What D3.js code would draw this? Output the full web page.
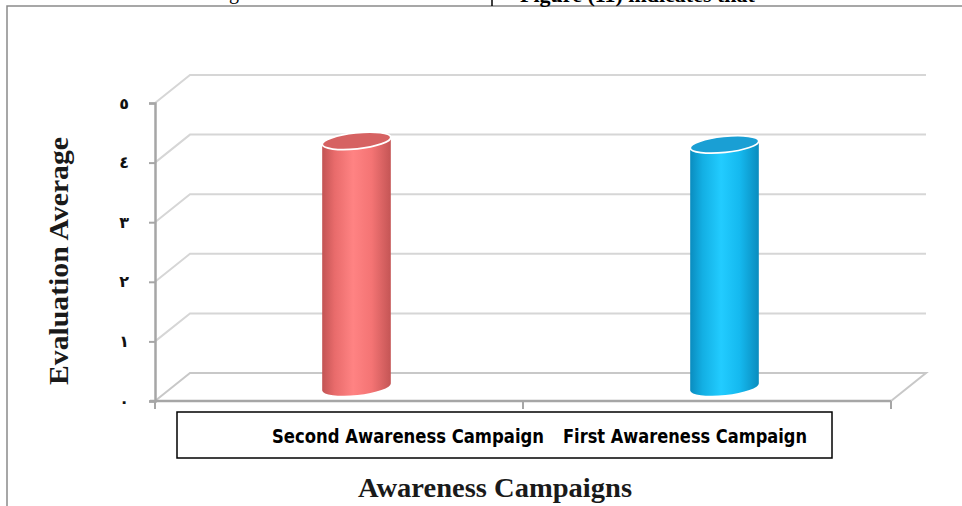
<!DOCTYPE html>
<html>
<head>
<meta charset="utf-8">
<script src="https://cdn.jsdelivr.net/npm/d3@7"></script>
<style>
  body { margin: 0; background: #fff; }
  svg { display: block; }
</style>
</head>
<body>
<svg id="chart" width="962" height="506"></svg>
<script>
// datos del grafico
const categorias = ["Second Awareness Campaign", "First Awareness Campaign"];
const valores = [4.13, 4.07];
const ticksY = [0, 1, 2, 3, 4, 5];
const etiquetasY = ["٠", "١", "٢", "٣", "٤", "٥"];
const colores = ["red", "blue"];

const svg = d3.select("#chart");
const defs = svg.append("defs");

// marco de la pagina (recortado)
svg.append("path")
    .attr("d", "M7,506 L7,6 L962,6")
    .attr("fill", "none")
    .attr("stroke", "#8a8a8a")
    .attr("stroke-width", 1.5);
svg.append("line")
    .attr("x1", 492).attr("x2", 492).attr("y1", 0).attr("y2", 6)
    .attr("stroke", "#000").attr("stroke-width", 1.5);
svg.append("text")
    .attr("x", 520).attr("y", 2)
    .style("font", "bold 22px 'Liberation Serif', serif")
    .text("Figure (11) indicates that");
svg.append("text")
    .attr("x", 229).attr("y", -1)
    .style("font", "20px 'Liberation Serif', serif")
    .text("g");

// escalas
const x = d3.scaleBand().domain(categorias).range([155, 891]);
const y = d3.scaleLinear().domain([0, 5]).range([401, 103]);
const prof = { dx: 35, dy: -28 };
const x0 = x.range()[0], x1 = x.range()[1];

// rejilla (pared del fondo)
ticksY.filter(t => t > 0).forEach(t => {
    svg.append("path")
        .attr("d", `M${x0},${y(t)} L${x0 + prof.dx},${y(t) + prof.dy} L${x1 + prof.dx},${y(t) + prof.dy}`)
        .attr("fill", "none")
        .attr("stroke", "#d6d6d6")
        .attr("stroke-width", 2);
});

// suelo
svg.append("path")
    .attr("d", `M${x0},${y(0)} L${x0 + prof.dx},${y(0) + prof.dy} L${x1 + prof.dx},${y(0) + prof.dy} L${x1},${y(0)}`)
    .attr("fill", "none")
    .attr("stroke", "#c8c8c8")
    .attr("stroke-width", 2);

// eje Y
const ejeY = svg.append("g")
    .attr("transform", `translate(${x0},0)`)
    .call(d3.axisLeft(y).tickValues(ticksY).tickSize(6).tickPadding(20)
        .tickFormat((d, i) => etiquetasY[i]));
ejeY.select(".domain").attr("stroke", "#a6a6a6").attr("stroke-width", 2.5);
ejeY.selectAll(".tick line").attr("stroke", "#a6a6a6").attr("stroke-width", 2);
ejeY.selectAll(".tick text")
    .style("font", "bold 16px 'DejaVu Sans', sans-serif")
    .attr("fill", "#111");

// linea frontal del suelo y marcas
svg.append("line")
    .attr("x1", x0 - 5).attr("x2", x1).attr("y1", y(0)).attr("y2", y(0))
    .attr("stroke", "#a6a6a6").attr("stroke-width", 2.5);
[x0, x(categorias[1]), x1].forEach(px => {
    svg.append("line")
        .attr("x1", px).attr("x2", px).attr("y1", y(0)).attr("y2", y(0) + 8)
        .attr("stroke", "#a6a6a6").attr("stroke-width", 2);
});

// gradientes de los cilindros
const paletas = {
    red: { stops: ["#c25454", "#e86b6b", "#ff8383", "#f47474", "#c45555"], tapa: "#d66262" },
    blue: { stops: ["#0a8cbf", "#13afe3", "#22ccff", "#15b9ef", "#0a8cbe"], tapa: "#1a9fd4" }
};
Object.keys(paletas).forEach(k => {
    const g = defs.append("linearGradient").attr("id", "grad-" + k)
        .attr("x1", "0%").attr("x2", "100%").attr("y1", "0%").attr("y2", "0%");
    [0, 18, 45, 72, 100].forEach((o, i) => {
        g.append("stop").attr("offset", o + "%").attr("stop-color", paletas[k].stops[i]);
    });
});

// cilindros
const rx = 34.5, ry = 8, rot = -6;
const a = rot * Math.PI / 180;
const ox = rx * Math.cos(a), oy = rx * Math.sin(a);

categorias.forEach((c, i) => {
    const cx = x(c) + x.bandwidth() / 2 + prof.dx / 2;
    const yb = y(0) + prof.dy / 2;
    const yt = y(valores[i]) + prof.dy / 2;
    const pal = paletas[colores[i]];
    const cuerpo = `M${cx - ox},${yt - oy} L${cx - ox},${yb - oy}` +
        ` A${rx},${ry} ${rot} 0 0 ${cx + ox},${yb + oy}` +
        ` L${cx + ox},${yt + oy}` +
        ` A${rx},${ry} ${rot} 0 1 ${cx - ox},${yt - oy} Z`;
    svg.append("path")
        .attr("d", cuerpo)
        .attr("fill", `url(#grad-${colores[i]})`);
    svg.append("ellipse")
        .attr("cx", cx).attr("cy", yt)
        .attr("rx", rx).attr("ry", ry)
        .attr("transform", `rotate(${rot},${cx},${yt})`)
        .attr("fill", pal.tapa)
        .attr("stroke", "#fff")
        .attr("stroke-width", 1.8);
});

// leyenda
svg.append("rect")
    .attr("x", 177).attr("y", 412).attr("width", 655).attr("height", 46)
    .attr("fill", "#fff").attr("stroke", "#000").attr("stroke-width", 1.5);
const posLeyenda = [408, 685];
const anchoLeyenda = [272, 244];
categorias.forEach((c, i) => {
    svg.append("text")
        .attr("x", posLeyenda[i]).attr("y", 443)
        .attr("text-anchor", "middle")
        .attr("textLength", anchoLeyenda[i])
        .attr("lengthAdjust", "spacingAndGlyphs")
        .style("font", "bold 20px 'Liberation Sans Narrow', 'DejaVu Sans Condensed', sans-serif")
        .text(c);
});

// titulos de los ejes
svg.append("text")
    .attr("transform", "translate(68,261) rotate(-90)")
    .attr("text-anchor", "middle")
    .attr("textLength", 248)
    .attr("lengthAdjust", "spacingAndGlyphs")
    .style("font", "bold 27px 'Liberation Serif', serif")
    .attr("fill", "#1a1a1a")
    .text("Evaluation Average");
svg.append("text")
    .attr("x", 495).attr("y", 497)
    .attr("text-anchor", "middle")
    .attr("textLength", 274)
    .attr("lengthAdjust", "spacingAndGlyphs")
    .style("font", "bold 27px 'Liberation Serif', serif")
    .attr("fill", "#1a1a1a")
    .text("Awareness Campaigns");
</script>
</body>
</html>
